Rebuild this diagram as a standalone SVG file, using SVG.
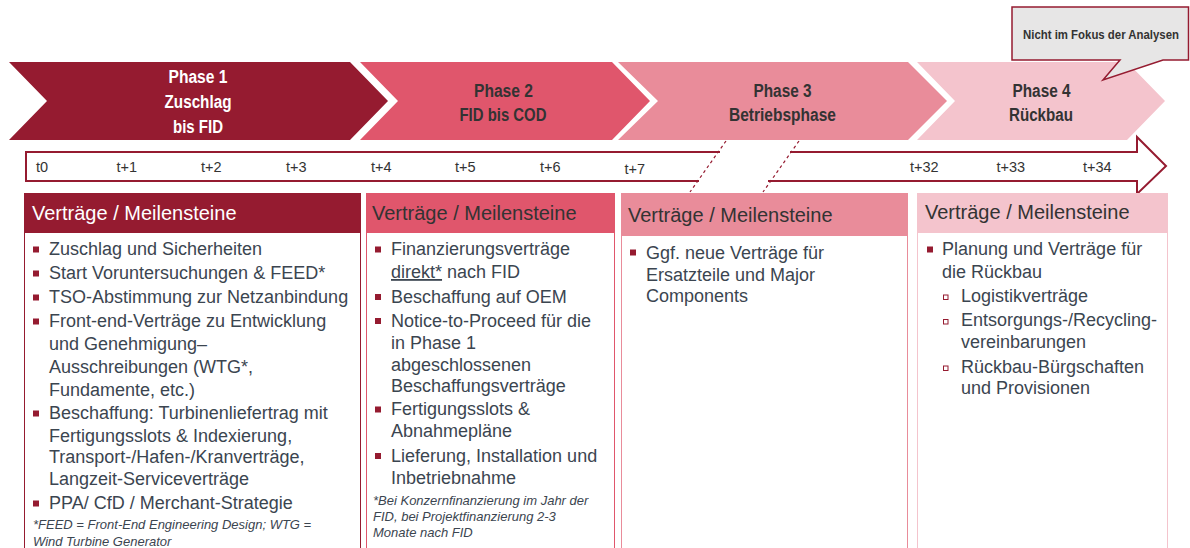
<svg xmlns="http://www.w3.org/2000/svg" width="1190" height="548" viewBox="0 0 1190 548">
<style>
.ph{font-family:"Liberation Sans Narrow","Liberation Sans",Arial,sans-serif;font-weight:bold;font-size:18px;text-anchor:middle}
.tl{font-family:"Liberation Sans",Arial,sans-serif;font-size:14.5px;fill:#333333}
.hd{font-family:"Liberation Sans",Arial,sans-serif;font-size:20px}
.bt{font-family:"Liberation Sans",Arial,sans-serif;font-size:18px;fill:#3B4550}
.fn{font-family:"Liberation Sans",Arial,sans-serif;font-size:13px;font-style:italic;fill:#3B4550}
.bl{fill:#951B30}
.sb{fill:#ffffff;stroke:#951B30;stroke-width:1}
</style>
<rect width="1190" height="548" fill="#ffffff"/>

<g id="phase1">
<path d="M9,62 H350 L388,101 L350,140 H9 L47,101 Z" fill="#951B30"/>
<text class="ph" fill="#ffffff"><tspan x="198" y="83" textLength="59" lengthAdjust="spacingAndGlyphs">Phase 1</tspan><tspan x="198" y="108" textLength="67" lengthAdjust="spacingAndGlyphs">Zuschlag</tspan><tspan x="198" y="133" textLength="50" lengthAdjust="spacingAndGlyphs">bis FID</tspan></text>
</g>
<g id="phase2">
<path d="M360,62 H612 L650,101 L612,140 H360 L398,101 Z" fill="#E0566C"/>
<text class="ph" fill="#333333"><tspan x="503.5" y="96.5" textLength="59" lengthAdjust="spacingAndGlyphs">Phase 2</tspan><tspan x="503" y="120.5" textLength="87" lengthAdjust="spacingAndGlyphs">FID bis COD</tspan></text>
</g>
<g id="phase3">
<path d="M618,62 H908 L947,101 L908,140 H618 L658,101 Z" fill="#E98C9A"/>
<text class="ph" fill="#333333"><tspan x="782.5" y="96.5" textLength="58" lengthAdjust="spacingAndGlyphs">Phase 3</tspan><tspan x="782.5" y="120.5" textLength="107" lengthAdjust="spacingAndGlyphs">Betriebsphase</tspan></text>
</g>
<g id="phase4">
<path d="M917,62 H1127 L1165,101 L1127,140 H917 L955,101 Z" fill="#F4C4CD"/>
<text class="ph" fill="#333333"><tspan x="1041.5" y="96.5" textLength="58" lengthAdjust="spacingAndGlyphs">Phase 4</tspan><tspan x="1041" y="120.5" textLength="64" lengthAdjust="spacingAndGlyphs">Rückbau</tspan></text>
</g>

<g id="callout">
<path d="M1012,7 H1188.5 V60 H1163 L1103,80 L1120,60 H1012 Z" fill="#E7E6E6" stroke="#951B30" stroke-width="1.5"/>
<text transform="translate(1023,39) scale(0.845,1)" x="0" y="0" font-family="'Liberation Sans',Arial,sans-serif" font-weight="bold" font-size="13.5" fill="#333333">Nicht im Fokus der Analysen</text>
</g>

<g id="connectors">
<g id="timeline" fill="none" stroke="#951B30" stroke-width="2">
<path d="M720,152 H26 V181 H699"/>
<path d="M790,152 H1137 V137 L1166,166 L1137,194 V181 H768"/>
<path d="M726,141 L690,192 M799,141 L763,192" stroke-width="1.2" stroke-dasharray="3,3"/>
</g>
</g>
<g id="timeline-labels">
<text class="tl" x="36" y="172">t0</text>
<text class="tl" x="116.5" y="172">t+1</text>
<text class="tl" x="201" y="172">t+2</text>
<text class="tl" x="286" y="172">t+3</text>
<text class="tl" x="371" y="172">t+4</text>
<text class="tl" x="455" y="172">t+5</text>
<text class="tl" x="540" y="172">t+6</text>
<text class="tl" x="624.5" y="173.5">t+7</text>
<text class="tl" x="910" y="172">t+32</text>
<text class="tl" x="996.5" y="172">t+33</text>
<text class="tl" x="1083" y="172">t+34</text>
</g>

<g id="box1">
<rect x="24.5" y="193.5" width="336" height="370" fill="#ffffff" stroke="#951B30" stroke-width="1"/>
<rect x="24" y="193" width="337" height="40" fill="#951B30"/>
<text class="hd" x="32" y="220" fill="#ffffff">Verträge / Meilensteine</text>
<rect class="bl" x="33" y="246.5" width="6" height="6"/>
<rect class="bl" x="33" y="270.5" width="6" height="6"/>
<rect class="bl" x="33" y="294.5" width="6" height="6"/>
<rect class="bl" x="33" y="318.5" width="6" height="6"/>
<rect class="bl" x="33" y="410.5" width="6" height="6"/>
<rect class="bl" x="33" y="500.5" width="6" height="6"/>
<text class="bt">
<tspan x="49" y="255">Zuschlag und Sicherheiten</tspan>
<tspan x="49" y="279">Start Voruntersuchungen &amp; FEED*</tspan>
<tspan x="49" y="303">TSO-Abstimmung zur Netzanbindung</tspan>
<tspan x="49" y="327">Front-end-Verträge zu Entwicklung</tspan>
<tspan x="49" y="350">und Genehmigung–</tspan>
<tspan x="49" y="373">Ausschreibungen (WTG*,</tspan>
<tspan x="49" y="396">Fundamente, etc.)</tspan>
<tspan x="49" y="419">Beschaffung: Turbinenliefertrag mit</tspan>
<tspan x="49" y="441.5">Fertigungsslots &amp; Indexierung,</tspan>
<tspan x="49" y="463">Transport-/Hafen-/Kranverträge,</tspan>
<tspan x="49" y="485">Langzeit-Serviceverträge</tspan>
<tspan x="49" y="509">PPA/ CfD / Merchant-Strategie</tspan>
</text>
<text class="fn"><tspan x="33" y="529">*FEED = Front-End Engineering Design; WTG =</tspan><tspan x="33" y="546">Wind Turbine Generator</tspan></text>
</g>

<g id="box2">
<rect x="366.5" y="193.5" width="248" height="370" fill="#ffffff" stroke="#E0566C" stroke-width="1"/>
<rect x="366" y="193" width="249" height="40" fill="#E0566C"/>
<text class="hd" x="372" y="220" fill="#333333">Verträge / Meilensteine</text>
<rect class="bl" x="375" y="246.5" width="6" height="6"/>
<rect class="bl" x="375" y="294" width="6" height="6"/>
<rect class="bl" x="375" y="318" width="6" height="6"/>
<rect class="bl" x="375" y="406.5" width="6" height="6"/>
<rect class="bl" x="375" y="453" width="6" height="6"/>
<text class="bt">
<tspan x="391" y="255">Finanzierungsverträge</tspan>
<tspan x="391" y="278" text-decoration="underline">direkt*</tspan><tspan> nach FID</tspan>
<tspan x="391" y="302.5">Beschaffung auf OEM</tspan>
<tspan x="391" y="326.5">Notice-to-Proceed für die</tspan>
<tspan x="391" y="348.5">in Phase 1</tspan>
<tspan x="391" y="370.5">abgeschlossenen</tspan>
<tspan x="391" y="392">Beschaffungsverträge</tspan>
<tspan x="391" y="415">Fertigungsslots &amp;</tspan>
<tspan x="391" y="437">Abnahmepläne</tspan>
<tspan x="391" y="461.5">Lieferung, Installation und</tspan>
<tspan x="391" y="483.5">Inbetriebnahme</tspan>
</text>
<text class="fn"><tspan x="373" y="505">*Bei Konzernfinanzierung im Jahr der</tspan><tspan x="373" y="521">FID, bei Projektfinanzierung 2-3</tspan><tspan x="373" y="537">Monate nach FID</tspan></text>
</g>

<g id="box3">
<rect x="621.5" y="193.5" width="286" height="370" fill="#ffffff" stroke="#E98C9A" stroke-width="1"/>
<rect x="621" y="193" width="287" height="43" fill="#E98C9A"/>
<text class="hd" x="628" y="222" fill="#333333">Verträge / Meilensteine</text>
<rect class="bl" x="630" y="249.5" width="6" height="6"/>
<text class="bt">
<tspan x="646" y="258.5">Ggf. neue Verträge für</tspan>
<tspan x="646" y="280.5">Ersatzteile und Major</tspan>
<tspan x="646" y="302">Components</tspan>
</text>
</g>

<g id="box4">
<rect x="917.5" y="193.5" width="250" height="370" fill="#ffffff" stroke="#F4C4CD" stroke-width="1"/>
<rect x="917" y="193" width="251" height="40" fill="#F4C4CD"/>
<text class="hd" x="925" y="218.5" fill="#333333">Verträge / Meilensteine</text>
<rect class="bl" x="927" y="246.5" width="6" height="6"/>
<rect class="sb" x="943.5" y="295" width="4.5" height="4.5"/>
<rect class="sb" x="943.5" y="319.5" width="4.5" height="4.5"/>
<rect class="sb" x="943.5" y="366" width="4.5" height="4.5"/>
<text class="bt">
<tspan x="942" y="255">Planung und Verträge für</tspan>
<tspan x="942" y="278">die Rückbau</tspan>
<tspan x="961" y="301.5">Logistikverträge</tspan>
<tspan x="961" y="326">Entsorgungs-/Recycling-</tspan>
<tspan x="961" y="347.5">vereinbarungen</tspan>
<tspan x="961" y="372.5">Rückbau-Bürgschaften</tspan>
<tspan x="961" y="394">und Provisionen</tspan>
</text>
</g>
</svg>
